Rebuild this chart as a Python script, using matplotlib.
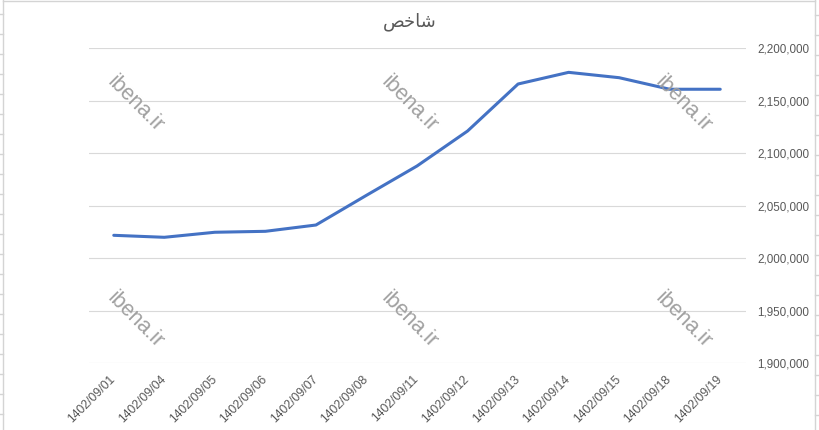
import matplotlib
matplotlib.use("Agg")
import matplotlib.pyplot as plt
from matplotlib.lines import Line2D
from matplotlib.ticker import FuncFormatter, MultipleLocator

dates = ["1402/09/01", "1402/09/04", "1402/09/05", "1402/09/06", "1402/09/07",
         "1402/09/08", "1402/09/11", "1402/09/12", "1402/09/13", "1402/09/14",
         "1402/09/15", "1402/09/18", "1402/09/19"]
values = [2021900, 2020000, 2024800, 2025700, 2031700, 2060000, 2087900,
          2121200, 2166000, 2177100, 2172000, 2161000, 2161000]
title_text = "\uFEBA\uFEA7\uFE8E\uFEB7"  # شاخص, shaped for display
watermark = "ibena.ir"

W, H = 819, 430
fig = plt.figure(figsize=(W / 100, H / 100), dpi=100)
fig.patch.set_facecolor("white")

left, right, top, bottom = 88.5, 745.5, 48.3, 363.3
ax = fig.add_axes([left / W, 1 - bottom / H, (right - left) / W, (bottom - top) / H])

x = list(range(len(dates)))
ax.plot(x, values, color="#4472C4", lw=2.2, solid_capstyle="round", zorder=3)

ax.set_xlim(-0.5, len(dates) - 0.5)
ax.set_ylim(1900000, 2200000)
ax.yaxis.set_major_locator(MultipleLocator(50000))
ax.yaxis.set_major_formatter(FuncFormatter(lambda v, p: f"{int(v):,}"))
ax.yaxis.tick_right()
ax.grid(axis="y", color="#D9D9D9", lw=0.8)
ax.set_axisbelow(True)
for s in ax.spines.values():
    s.set_visible(False)
ax.tick_params(axis="y", length=0, pad=8.3, labelsize=8.4, labelcolor="#595959")
for lab in ax.get_yticklabels():
    lab.set_fontfamily("Liberation Sans")
ax.set_xticks(x)
ax.set_xticklabels(dates, rotation=45, ha="right", va="center",
                   rotation_mode="anchor", fontsize=8.8, color="#595959",
                   family="Liberation Sans")
ax.tick_params(axis="x", length=0, pad=10)

fig.text(410 / W, 1 - 22 / H, title_text, ha="center", va="center",
         fontsize=13, color="#595959", family=["DejaVu Sans"])

for cx in (135, 409, 683):
    for cy in (104, 320):
        fig.text(cx / W, 1 - cy / H, watermark, ha="center", va="center",
                 rotation=-45, fontsize=15.5, color="#A0A0A0",
                 family="Liberation Sans", zorder=5)

# worksheet frame and cell lines
c = "#D4D4D4"
fig.add_artist(Line2D([2.5 / W, 2.5 / W], [0, 1], color=c, lw=1, transform=fig.transFigure))
fig.add_artist(Line2D([814.5 / W, 814.5 / W], [0, 1], color=c, lw=1, transform=fig.transFigure))
fig.add_artist(Line2D([2.5 / W, 814.5 / W], [1 - 0.5 / H, 1 - 0.5 / H], color=c, lw=1, transform=fig.transFigure))
yy = 14
while yy < H:
    fig.add_artist(Line2D([0, 2.5 / W], [1 - yy / H] * 2, color=c, lw=1, transform=fig.transFigure))
    fig.add_artist(Line2D([814.5 / W, 1], [1 - (yy + 1) / H] * 2, color=c, lw=1, transform=fig.transFigure))
    yy += 20

fig.savefig("out.png", dpi=100)
